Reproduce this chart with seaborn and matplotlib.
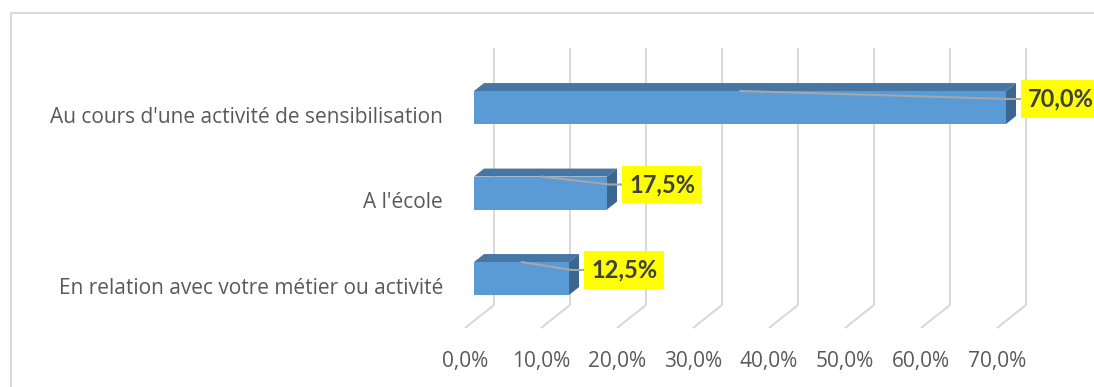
import matplotlib
matplotlib.use("Agg")
import matplotlib.pyplot as plt
from matplotlib.patches import Polygon
from matplotlib.lines import Line2D
import seaborn as sns
import pandas as pd

# Survey answers and their shares (%)
categories = [
    "Au cours d'une activité de sensibilisation",
    "A l'école",
    "En relation avec votre métier ou activité",
]
shares = [70.0, 17.5, 12.5]
tick_values = [0, 10, 20, 30, 40, 50, 60, 70]


def fmt_pct(v):
    return f"{v:.1f}%".replace(".", ",")


sns.set_theme(style="white")
plt.rcParams["font.family"] = ["Open Sans", "DejaVu Sans"]

W, H = 1094, 387
fig = plt.figure(figsize=(W / 100, H / 100), dpi=100)
ax = fig.add_axes([0, 0, 1, 1])

# Pixel geometry of the plot: scale of the value axis and spacing of rows
PX_PER_PCT = 7.6
X_ORIGIN = 474          # left edge of the bar front faces
ROW_PX = 85.5           # distance between category rows
ROW0_PX = 107.5         # centre of the first row
BAR_H_PX = 33


def px_x(p):
    return p / PX_PER_PCT


def px_y(p):
    return p / ROW_PX


df = pd.DataFrame({"categorie": categories, "part": shares})
sns.barplot(data=df, x="part", y="categorie", orient="h", color="#5B9BD5",
            saturation=1, width=BAR_H_PX / ROW_PX, linewidth=0, ax=ax, zorder=3)

ax.set_xlim(-X_ORIGIN / PX_PER_PCT, (W - X_ORIGIN) / PX_PER_PCT)
ax.set_ylim((H - ROW0_PX) / ROW_PX, -ROW0_PX / ROW_PX)
ax.axis("off")

# Oblique depth of the 3-D box (front floor edge -> back wall)
DEPTH_DX = px_x(29)
DEPTH_DY = -px_y(23)
D_FRONT = 9 / 29        # depth of the bar front faces
D_BAR = 10 / 29         # thickness of the bars

floor_front_y = px_y(328 - ROW0_PX)
floor_back_y = floor_front_y + DEPTH_DY
wall_top_y = px_y(48 - ROW0_PX)

grid_kw = dict(color="#D9D9D9", lw=1.5, zorder=1, solid_capstyle="butt")
for v in tick_values:
    xf = v - D_FRONT * DEPTH_DX
    xb = xf + DEPTH_DX
    ax.plot([xf, xb], [floor_front_y, floor_back_y], **grid_kw)
    ax.plot([xb, xb], [floor_back_y, wall_top_y], **grid_kw)
    ax.text(xf, px_y(367 - ROW0_PX), fmt_pct(v), ha="center", va="baseline",
            fontsize=15, color="#595959")

# Top and side faces of each bar, plus value labels with leader lines
bdx = D_BAR * DEPTH_DX
bdy = D_BAR * DEPTH_DY
for patch, cat, v in zip(ax.patches, categories, shares):
    x0, y0 = patch.get_x(), patch.get_y()
    w, h = patch.get_width(), patch.get_height()
    top = min(y0, y0 + h)
    bot = max(y0, y0 + h)
    top_face = Polygon([(x0, top), (x0 + w, top), (x0 + w + bdx, top + bdy),
                        (x0 + bdx, top + bdy)], closed=True,
                       facecolor="#4676A3", edgecolor="none", zorder=3)
    side_face = Polygon([(x0 + w, top), (x0 + w + bdx, top + bdy),
                         (x0 + w + bdx, bot + bdy), (x0 + w, bot)], closed=True,
                        facecolor="#3A6690", edgecolor="none", zorder=3)
    ax.add_patch(top_face)
    ax.add_patch(side_face)

    yc = (top + bot) / 2
    ax.text(px_x(443 - X_ORIGIN), yc + px_y(15.5), cat, ha="right",
            va="baseline", fontsize=15, color="#595959")

    box_left = x0 + w + px_x(15)
    label_y = yc - px_y(8.5)
    ax.plot([x0 + w / 2, box_left - px_x(12), box_left],
            [top, label_y, label_y], color="#A6A6A6", lw=1.5, zorder=4)
    ax.text(box_left + px_x(7), label_y, fmt_pct(v), ha="left", va="center",
            fontsize=17, fontweight="bold", color="#404040", zorder=5,
            family=["Lato", "DejaVu Sans"],
            bbox=dict(boxstyle="square,pad=0.3", facecolor="#FFFF00",
                      edgecolor="none"))

# Chart area border
bx, by = 10.5 / W, 1 - 13 / H
fig.add_artist(Line2D([bx, 1], [by, by], color="#D9D9D9", lw=1.5,
                      transform=fig.transFigure))
fig.add_artist(Line2D([bx, bx], [0, by], color="#D9D9D9", lw=1.5,
                      transform=fig.transFigure))

fig.savefig("out.png", dpi=100, facecolor="white")
